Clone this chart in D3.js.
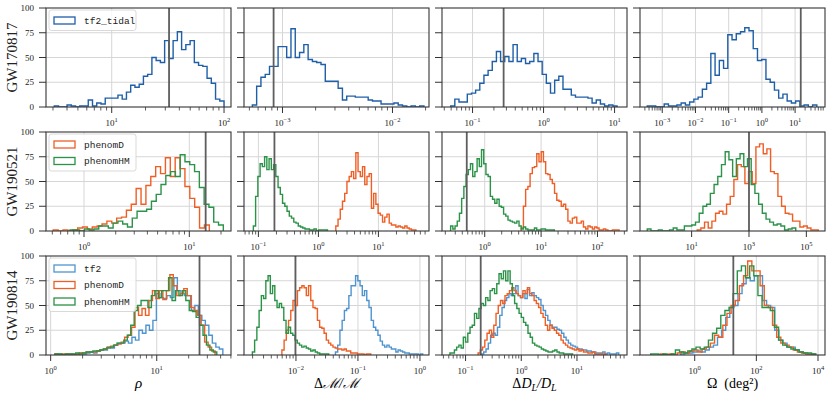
<!DOCTYPE html>
<html>
<head>
<meta charset="utf-8">
<script src="https://cdn.jsdelivr.net/npm/d3@7"></script>
<style>
  body { margin: 0; background: #fff; }
  svg { display: block; }
</style>
</head>
<body>
<div id="chart"></div>
<script>
// rows = events, columns = recovered parameters
const events = ["GW170817", "GW190521", "GW190814"];
const xTitles = ["rho", "dM", "dDL", "omega"];

// injected / true values (grey vertical lines)
const injected = [
  [32.4, 8.3e-4, 0.274, 14.8],
  [14.3, 0.185, 0.48, 1000],
  [25.3, 0.0098, 0.187, 17.9]
];

// x limits in log10 units, per panel
const xLimits = [
  [[0.415, 2.062], [-3.35, -1.668], [-1.43, 1.175], [-3.67, 1.90]],
  [[-0.361, 1.396], [-1.24, 1.843], [-0.758, 2.524], [-0.80, 5.65]],
  [[-0.044, 1.70], [-2.838, 0.146], [-1.423, 1.898], [-1.775, 4.227]]
];

// labelled decades (exponents) per panel
const majorTicks = [
  [[1, 2], [-3, -2], [-1, 0, 1], [-3, -2, -1, 0, 1]],
  [[0, 1], [-1, 0, 1], [0, 1, 2], [1, 3, 5]],
  [[0, 1], [-2, -1, 0], [-1, 0, 1], [0, 2, 4]]
];
const yTicks = [0, 25, 50, 75, 100];

// histogram counts, bins spaced evenly in log10 between the given range
const gw170817_rho_tidal = [1,0,0,2,1,0,1,1,7,1,4,3,9,9,9,12,8,15,22,20,23,31,33,50,47,45,67,49,67,76,58,63,67,45,42,41,29,24,8,6];
const gw170817_dM_tidal = [2,21,30,33,41,41,61,61,50,79,50,55,63,48,46,45,43,26,26,26,19,7,11,11,10,10,10,7,6,6,3,3,3,4,2,1,0,1,0,1];
const gw170817_dDL_tidal = [1,8,5,5,13,14,17,24,32,37,46,56,46,51,46,63,46,49,44,46,54,46,33,24,14,27,31,18,18,12,10,10,10,9,4,7,3,1,2,1];
const gw170817_omega_tidal = [1,1,0,0,3,1,1,2,4,2,5,8,10,18,24,54,32,47,39,73,68,74,76,80,77,59,47,48,28,25,17,9,13,6,4,6,1,2,0,2];

const gw190521_rho_D = [1,0,1,0,1,3,4,2,4,5,7,10,8,13,14,21,27,43,27,46,55,65,58,74,55,74,63,45,33,24,3,6];
const gw190521_rho_HM = [1,1,0,2,1,2,5,5,3,8,10,7,4,13,20,20,22,30,37,47,56,60,55,77,70,67,60,44,27,24,9,6];
const gw190521_dM_D = [5,12,22,30,38,50,55,60,53,79,60,55,65,47,55,58,23,38,27,18,16,9,14,17,8,6,6,4,5,4,3,5,3,2,1,1];
const gw190521_dM_HM = [5,35,55,68,65,75,62,73,62,67,55,44,37,28,25,20,15,13,9,8,5,4,3,2,2,1,1,2,0,1,1,1,1];
const gw190521_dDL_D = [3,25,42,45,58,64,65,78,70,80,70,58,57,52,48,38,31,30,25,27,22,10,8,13,14,8,8,10,4,2,5,4,2,4,3,1,1,2,1,0,0,1,1,1];
const gw190521_dDL_HM = [5,2,5,10,18,33,45,57,62,68,55,60,73,65,82,68,57,55,35,32,28,32,25,24,17,15,11,10,9,8,10,5,2,4,2,1,1,1,3,1,1,2,2,1,1,1,1];
const gw190521_omega_D = [1,3,9,3,10,18,20,17,27,35,52,67,65,48,60,48,85,88,78,83,60,58,35,25,18,17,10,10,4,5,3,1,1];
const gw190521_omega_HM = [2,0,0,1,0,0,1,3,1,1,5,5,6,9,18,25,27,38,47,55,67,80,72,55,73,78,65,73,47,38,27,18,12,9,6,7,5,1,2,3];

const gw190814_rho_tf2 = [1,1,0,1,1,1,1,2,1,2,3,2,4,5,5,8,7,10,12,12,14,12,18,15,25,22,30,25,35,62,58,57,60,58,78,65,62,60,60,45,50,40,35,30,20,12,8,6];
const gw190814_rho_D = [1,0,1,1,1,0,1,2,2,3,3,3,4,5,6,8,9,10,11,13,18,20,28,48,40,47,40,55,65,57,65,56,65,81,70,60,62,67,60,48,45,40,30,13,8,4];
const gw190814_rho_HM = [1,1,0,1,1,1,2,1,2,3,3,4,4,5,6,7,8,10,12,12,15,20,30,45,50,55,55,48,60,65,58,65,65,78,55,65,60,65,55,45,44,38,30,20,10,5,3];
const gw190814_dM_tf2 = [3,10,25,35,45,47,60,70,70,80,75,70,60,65,55,48,35,28,25,20,14,10,8,10,8,6,6,3,5,4,3,2,2,1,1,1,1,0,1];
const gw190814_dM_D = [5,15,25,35,45,55,50,65,68,70,68,60,70,55,48,47,35,28,27,22,15,12,10,8,7,6,6,5,6,4,4,2,2,2,1,1,1,0,1,1];
const gw190814_dM_HM = [3,15,28,45,60,57,75,80,62,70,55,48,52,48,35,22,28,22,20,15,12,10,8,9,7,6,4,5,3,2,1,1,1,1];
const gw190814_dDL_tf2 = [1,3,6,12,20,22,20,28,40,48,55,58,62,60,62,70,60,58,62,57,66,60,63,60,58,56,50,45,40,35,30,28,28,26,25,22,18,15,12,10,9,8,6,6,5,5,4,4,3,3,2,2,2,3,1,2,1,1,1,2];
const gw190814_dDL_D = [2,5,8,15,22,25,18,30,42,50,55,52,60,62,65,68,65,62,60,58,65,62,68,62,60,55,52,48,42,38,30,25,30,27,25,22,20,15,12,10,8,7,6,5,6,4,5,3,3,2,2,3,1,1,1,1,1];
const gw190814_dDL_HM = [2,2,5,8,10,7,18,13,22,28,30,42,37,47,52,50,58,55,65,67,62,72,82,77,85,75,85,72,60,52,47,42,38,33,30,22,18,12,10,9,8,6,5,4,3,3,4,5,3,2,2,1,1,1,1];
const gw190814_omega_tf2 = [1,2,2,3,4,3,5,8,10,18,25,38,48,50,62,72,78,75,80,80,55,50,48,25,15,12,8,8,5,3,2,1,1];
const gw190814_omega_D = [1,0,1,0,2,3,2,4,5,3,6,8,12,20,18,30,42,50,55,70,80,95,85,85,70,50,48,30,18,12,10,8,5,3,2,1,1];
const gw190814_omega_HM = [1,1,0,1,0,1,5,3,2,4,6,8,6,8,15,22,27,40,45,48,62,85,90,78,90,80,60,48,48,45,28,15,10,8,6,5,3,2,2,1];

// bin ranges (log10 of first and last edge) for each series
const binRanges = {
  gw170817_rho_tidal: [0.489, 2.0], gw170817_dM_tidal: [-3.274, -1.714],
  gw170817_dDL_tidal: [-1.308, 1.035], gw170817_omega_tidal: [-3.452, 1.654],
  gw190521_rho_D: [-0.292, 1.190], gw190521_rho_HM: [-0.133, 1.323],
  gw190521_dM_D: [0.29, 1.625], gw190521_dM_HM: [-1.084, 0.151],
  gw190521_dDL_D: [0.647, 2.383], gw190521_dDL_HM: [-0.605, 1.235],
  gw190521_omega_D: [1.195, 5.415], gw190521_omega_HM: [-0.547, 4.63],
  gw190814_rho_tf2: [0.041, 1.623], gw190814_rho_D: [0.041, 1.55], gw190814_rho_HM: [0.041, 1.566],
  gw190814_dM_tf2: [-1.363, 0.044], gw190814_dM_D: [-2.227, -0.794], gw190814_dM_HM: [-2.703, -1.472],
  gw190814_dDL_tf2: [-0.715, 1.75], gw190814_dDL_D: [-0.775, 1.518], gw190814_dDL_HM: [-1.28, 0.921],
  gw190814_omega_tf2: [-0.455, 3.925], gw190814_omega_D: [-1.104, 3.87], gw190814_omega_HM: [-1.429, 3.925]
};

// which models appear in each row (draw order)
const rowModels = [["tf2_tidal"], ["phenomD", "phenomHM"], ["tf2", "phenomD", "phenomHM"]];
const counts = {
  gw170817_rho_tidal, gw170817_dM_tidal, gw170817_dDL_tidal, gw170817_omega_tidal,
  gw190521_rho_D, gw190521_rho_HM, gw190521_dM_D, gw190521_dM_HM,
  gw190521_dDL_D, gw190521_dDL_HM, gw190521_omega_D, gw190521_omega_HM,
  gw190814_rho_tf2, gw190814_rho_D, gw190814_rho_HM, gw190814_dM_tf2, gw190814_dM_D, gw190814_dM_HM,
  gw190814_dDL_tf2, gw190814_dDL_D, gw190814_dDL_HM, gw190814_omega_tf2, gw190814_omega_D, gw190814_omega_HM
};
const modelKey = { tf2_tidal: "tidal", tf2: "tf2", phenomD: "D", phenomHM: "HM" };
const color = { tf2_tidal: "#1f5fa8", tf2: "#4f94cf", phenomD: "#ef5f25", phenomHM: "#2b9348" };

const W = 831, H = 399;
const marginL = 46, marginT = 8, pw = 185, ph = 99, gx = 13, gy = 25;
const serif = "'Liberation Serif', 'DejaVu Serif', serif";

const svg = d3.select("#chart").append("svg")
  .attr("width", W).attr("height", H)
  .style("font-family", serif);

const y = d3.scaleLinear().domain([0, 100]).range([ph, 0]);

const line = d3.line().curve(d3.curveStepAfter);

events.forEach((ev, r) => {
  xTitles.forEach((par, c) => {
    const g = svg.append("g")
      .attr("transform", `translate(${marginL + c * (pw + gx)},${marginT + r * (ph + gy)})`);
    const lim = xLimits[r][c];
    const x = d3.scaleLog().domain([10 ** lim[0], 10 ** lim[1]]).range([0, pw]);
    const majors = majorTicks[r][c];
    const stride = majors.length > 1 ? majors[1] - majors[0] : 1;

    // grid
    g.selectAll(".gx").data(majors).join("line")
      .attr("x1", d => x(10 ** d)).attr("x2", d => x(10 ** d))
      .attr("y1", 0).attr("y2", ph)
      .attr("stroke", "#d6d6d6").attr("stroke-width", 1);
    g.selectAll(".gy").data([25, 50, 75]).join("line")
      .attr("x1", 0).attr("x2", pw)
      .attr("y1", d => y(d)).attr("y2", d => y(d))
      .attr("stroke", "#d6d6d6").attr("stroke-width", 1);

    // histograms
    const clipId = `clip-${r}-${c}`;
    g.append("clipPath").attr("id", clipId).append("rect")
      .attr("x", 0).attr("y", -2).attr("width", pw).attr("height", ph + 2);
    rowModels[r].forEach(m => {
      const key = `${ev.toLowerCase()}_${par}_${modelKey[m]}`;
      const vals = counts[key];
      const [lo, hi] = binRanges[key];
      const n = vals.length;
      const edge = i => 10 ** (lo + (hi - lo) * i / n);
      const pts = [[edge(0), 0]].concat(vals.map((v, i) => [edge(i), v]), [[edge(n), 0]]);
      g.append("path")
        .attr("clip-path", `url(#${clipId})`)
        .attr("d", line(pts.map(p => [x(p[0]), y(p[1])])))
        .attr("fill", "none")
        .attr("stroke", color[m])
        .attr("stroke-width", 1.4)
        .attr("stroke-linejoin", "miter");
    });

    // injected value
    g.append("line")
      .attr("x1", x(injected[r][c])).attr("x2", x(injected[r][c]))
      .attr("y1", 0).attr("y2", ph)
      .attr("stroke", "#5e5e5e").attr("stroke-width", 1.8);

    // frame
    g.append("rect").attr("width", pw).attr("height", ph)
      .attr("fill", "none").attr("stroke", "#333").attr("stroke-width", 1.1);

    // y ticks
    g.selectAll(".yt").data(yTicks).join("line")
      .attr("x1", -7).attr("x2", 0)
      .attr("y1", d => y(d)).attr("y2", d => y(d))
      .attr("stroke", "#333").attr("stroke-width", 1);
    if (c === 0) {
      g.selectAll(".yl").data(yTicks).join("text")
        .attr("x", -12).attr("y", d => y(d) + 3)
        .attr("text-anchor", "end")
        .attr("font-size", 9).attr("fill", "#222")
        .text(d => d);
    }

    // x ticks
    g.selectAll(".xt").data(majors).join("line")
      .attr("x1", d => x(10 ** d)).attr("x2", d => x(10 ** d))
      .attr("y1", ph).attr("y2", ph + 6)
      .attr("stroke", "#333").attr("stroke-width", 1);
    if (stride === 1) {
      const minors = [];
      for (let d = Math.floor(lim[0]); d <= Math.ceil(lim[1]); d++) {
        for (let k = 2; k <= 9; k++) {
          const v = Math.log10(k) + d;
          if (v >= lim[0] && v <= lim[1]) minors.push(k * 10 ** d);
        }
      }
      g.selectAll(".xm").data(minors).join("line")
        .attr("x1", d => x(d)).attr("x2", d => x(d))
        .attr("y1", ph).attr("y2", ph + 3.5)
        .attr("stroke", "#333").attr("stroke-width", 0.8);
    }
    const lab = g.selectAll(".xl").data(majors).join("text")
      .attr("x", d => x(10 ** d)).attr("y", ph + 19)
      .attr("text-anchor", "middle").attr("font-size", 9).attr("fill", "#222");
    lab.append("tspan").text("10");
    lab.append("tspan").attr("dy", -4.5).attr("font-size", 6.5)
      .text(d => String(d).replace("-", "\u2212"));

    // legend in first column
    if (c === 0) {
      const ms = rowModels[r];
      const lg = g.append("g").attr("transform", "translate(3,2)");
      lg.append("rect").attr("width", 87).attr("height", 4 + 16.5 * ms.length)
        .attr("rx", 2.5).attr("fill", "#fff").attr("fill-opacity", 0.85)
        .attr("stroke", "#cfcfcf").attr("stroke-width", 0.8);
      ms.forEach((m, i) => {
        const cy = 10.5 + 16.5 * i;
        lg.append("rect").attr("x", 5).attr("y", cy - 3.5).attr("width", 21).attr("height", 7)
          .attr("fill", "none").attr("stroke", color[m]).attr("stroke-width", 1.3);
        lg.append("text").attr("x", 35).attr("y", cy + 3)
          .attr("font-family", "'Liberation Mono', 'DejaVu Sans Mono', monospace")
          .attr("font-size", 9.5).attr("fill", "#222").text(m);
      });
    }
  });

  // row label
  svg.append("text")
    .attr("transform", `translate(17,${marginT + r * (ph + gy) + ph / 2}) rotate(-90)`)
    .attr("text-anchor", "middle").attr("font-size", 15).attr("fill", "#222")
    .text(ev);
});

// x axis titles
const titleY = 388;
const cx = c => marginL + c * (pw + gx) + pw / 2;
svg.append("text").attr("x", cx(0)).attr("y", titleY).attr("text-anchor", "middle")
  .attr("font-size", 15).attr("font-style", "italic").text("\u03c1");
const t1 = svg.append("text").attr("x", cx(1)).attr("y", titleY).attr("text-anchor", "middle")
  .attr("font-size", 14);
t1.append("tspan").text("\u0394");
t1.append("tspan").attr("font-style", "italic").text("\u2133/\u2133");
const t2 = svg.append("text").attr("x", cx(2)).attr("y", titleY).attr("text-anchor", "middle")
  .attr("font-size", 14);
t2.append("tspan").text("\u0394");
t2.append("tspan").attr("font-style", "italic").text("D");
t2.append("tspan").attr("font-style", "italic").attr("font-size", 10).attr("dy", 3).text("L");
t2.append("tspan").attr("font-style", "italic").attr("dy", -3).text("/D");
t2.append("tspan").attr("font-style", "italic").attr("font-size", 10).attr("dy", 3).text("L");
svg.append("text").attr("x", cx(3)).attr("y", titleY).attr("text-anchor", "middle")
  .attr("font-size", 14).text("\u03a9\u2002(deg\u00b2)");
</script>
</body>
</html>
